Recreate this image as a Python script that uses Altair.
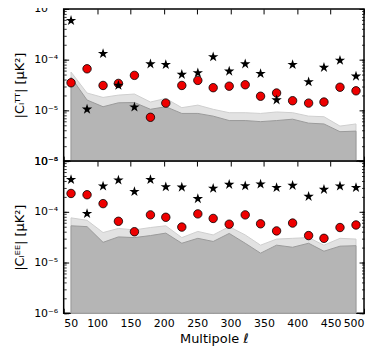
import altair as alt
import pandas as pd

ell = [61, 85, 109, 132, 156, 180, 203, 227, 251, 274, 298, 322, 345, 369, 393, 417, 440, 464, 488]

tt_star = [5.9e-4, 1.05e-5, 1.31e-4, 3.1e-5, 1.16e-5, 8.2e-5, 8.0e-5, 5.1e-5, 5.5e-5, 1.13e-4,
           5.9e-5, 8.2e-5, 5.3e-5, 1.6e-5, 8.0e-5, 3.65e-5, 7.0e-5, 9.7e-5, 4.7e-5]
tt_circ = [3.5e-5, 6.6e-5, 3.1e-5, 3.4e-5, 4.9e-5, 7.3e-6, 1.39e-5, 3.1e-5, 3.9e-5, 2.8e-5,
           3.0e-5, 3.2e-5, 1.9e-5, 2.2e-5, 1.55e-5, 1.39e-5, 1.46e-5, 2.86e-5, 2.43e-5]
tt_light = [5.7e-5, 2.2e-5, 1.8e-5, 2.0e-5, 2.1e-5, 1.46e-5, 1.72e-5, 1.13e-5, 1.27e-5, 1.05e-5,
            9.0e-6, 9.0e-6, 8.7e-6, 9.3e-6, 9.0e-6, 7.7e-6, 7.5e-6, 4.9e-6, 5.4e-6]
tt_dark = [4.5e-5, 1.6e-5, 1.18e-5, 1.41e-5, 1.43e-5, 1.05e-5, 1.18e-5, 8.7e-6, 8.7e-6, 7.7e-6,
           6.3e-6, 6.3e-6, 6.0e-6, 6.3e-6, 6.7e-6, 5.6e-6, 5.4e-6, 3.8e-6, 3.9e-6]

ee_star = [4.3e-4, 9.2e-5, 3.2e-4, 4.2e-4, 2.5e-4, 4.3e-4, 3.1e-4, 3.05e-4, 1.81e-4, 2.9e-4,
           3.45e-4, 3.25e-4, 3.5e-4, 3.0e-4, 3.3e-4, 2.0e-4, 2.75e-4, 3.2e-4, 3.0e-4]
ee_circ = [2.3e-4, 2.17e-4, 1.45e-4, 6.5e-5, 4.05e-5, 8.7e-5, 7.8e-5, 5.0e-5, 9.1e-5, 7.4e-5,
           5.7e-5, 8.7e-5, 5.8e-5, 4.2e-5, 6.0e-5, 3.4e-5, 3.0e-5, 4.9e-5, 5.5e-5]
ee_light = [7.6e-5, 6.8e-5, 3.9e-5, 4.7e-5, 4.4e-5, 4.9e-5, 5.3e-5, 3.1e-5, 4.1e-5, 3.5e-5,
            5.1e-5, 3.5e-5, 2.2e-5, 2.9e-5, 3.0e-5, 3.1e-5, 2.2e-5, 3.0e-5, 2.9e-5]
ee_dark = [5.3e-5, 5.1e-5, 2.5e-5, 3.2e-5, 3.1e-5, 3.4e-5, 3.8e-5, 2.4e-5, 3.0e-5, 2.6e-5,
           3.75e-5, 2.4e-5, 1.53e-5, 2.2e-5, 2.0e-5, 2.4e-5, 1.67e-5, 2.1e-5, 2.15e-5]

x_ticks = list(range(50, 501, 50))
y_decades = [1e-6, 1e-5, 1e-4, 1e-3]
y_minor = [k * 10.0 ** e for e in range(-6, -3) for k in range(1, 10)] + [1e-3]

STAR = ("M0,-1L0.2245,-0.309L0.951,-0.309L0.363,0.118L0.588,0.809L0,0.382"
        "L-0.588,0.809L-0.363,0.118L-0.951,-0.309L-0.2245,-0.309Z")

FONT = "DejaVu Sans"
LABEL_EXPR = ("datum.value > 5e-4 ? '10⁻³' : datum.value > 5e-5 ? '10⁻⁴' : "
              "datum.value > 5e-6 ? '10⁻⁵' : '10⁻⁶'")

W, H = 302, 153


def panel(star, circ, light, dark, ytitle, bottom):
    df = pd.DataFrame({"ell": ell, "star": star, "circ": circ, "light": light, "dark": dark})
    xs = alt.Scale(domain=[50, 500], nice=False, zero=False)
    ys = alt.Scale(type="log", domain=[1e-6, 1e-3], nice=False)
    base = alt.Chart(df)

    common = dict(domain=False, grid=False, tickColor="black", labelFont=FONT,
                  titleFont=FONT, labelColor="black", titleColor="black")

    ax_x_bottom = alt.Axis(orient="bottom", values=x_ticks, tickSize=5, offset=-5, tickWidth=1,
                           labels=bottom, labelPadding=4, labelFontSize=11,
                           titleFontSize=13, titleFontWeight="normal", titlePadding=4,
                           **common)
    ax_x_top = alt.Axis(orient="top", values=x_ticks, tickSize=5, offset=-5, tickWidth=1,
                        labels=False, **common)
    ax_y_left = alt.Axis(orient="left", values=y_decades, tickSize=5, offset=-5, tickWidth=1,
                         labelExpr=LABEL_EXPR, labelPadding=6, labelFontSize=11,
                         titleFontSize=13, titleFontWeight="normal", titlePadding=7,
                         **common)
    ax_y_left_min = alt.Axis(orient="left", values=y_minor, tickSize=2.5, offset=-2.5,
                             tickWidth=0.8, labels=False, **common)
    ax_y_right = alt.Axis(orient="right", values=y_decades, tickSize=5, offset=-5,
                          tickWidth=1, labels=False, **common)
    ax_y_right_min = alt.Axis(orient="right", values=y_minor, tickSize=2.5, offset=-2.5,
                              tickWidth=0.8, labels=False, **common)

    light_area = base.mark_area(color="#e2e2e2", stroke="#cfcfcf", strokeWidth=1).encode(
        x=alt.X("ell:Q", scale=xs, axis=ax_x_bottom,
                title=("Multipole ℓ" if bottom else None)),
        y=alt.Y("light:Q", scale=ys, axis=ax_y_left, title=ytitle),
        y2=alt.datum(1e-6),
    )
    dark_area = base.mark_area(color="#b5b5b5", stroke="#9a9a9a", strokeWidth=1).encode(
        x=alt.X("ell:Q", scale=xs, axis=ax_x_top, title=None),
        y=alt.Y("dark:Q", scale=ys, axis=ax_y_left_min, title=None),
        y2=alt.datum(1e-6),
    )
    circles = base.mark_point(shape="circle", filled=True, fill="#ee0000", stroke="black",
                              strokeWidth=0.8, size=72, opacity=1).encode(
        x=alt.X("ell:Q", scale=xs, axis=None),
        y=alt.Y("circ:Q", scale=ys, axis=ax_y_right, title=None),
    )
    stars = base.mark_point(shape=STAR, filled=True, color="black", size=120,
                            opacity=1).encode(
        x=alt.X("ell:Q", scale=xs, axis=None),
        y=alt.Y("star:Q", scale=ys, axis=ax_y_right_min, title=None),
    )
    return alt.layer(light_area, dark_area, circles, stars).resolve_axis(
        x="independent", y="independent"
    ).properties(width=W, height=H)


top = panel(tt_star, tt_circ, tt_light, tt_dark, "|Cₗᵀᵀ| [μK²]", False)
bot = panel(ee_star, ee_circ, ee_light, ee_dark, "|Cₗᴱᴱ| [μK²]", True)

chart = alt.vconcat(top, bot, spacing=0, bounds="flush").properties(
    padding={"left": 5, "top": -7, "right": 0, "bottom": 0}
).configure_view(stroke="black", strokeWidth=1.5)

chart.save("out.html", embed_options={"renderer": "svg", "actions": False})
